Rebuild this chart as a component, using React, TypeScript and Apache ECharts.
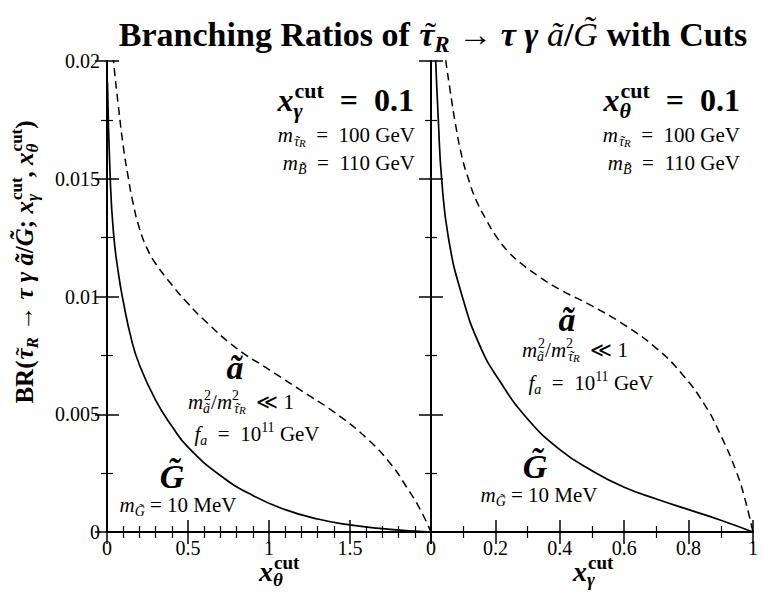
import React, { useEffect, useRef } from 'react';
import * as echarts from 'echarts';

// Left panel: BR vs x_theta^cut (x_gamma^cut = 0.1)
const leftGravX = [0.003, 0.02, 0.04, 0.07, 0.1, 0.15, 0.2, 0.3, 0.4, 0.5, 0.7, 0.9, 1.1, 1.3, 1.5, 1.7, 1.9, 2.0];
const leftGravY = [0.0191, 0.0150, 0.0127, 0.0110, 0.0098, 0.0082, 0.0071, 0.0056, 0.0045, 0.0036, 0.0024, 0.00155, 0.00095, 0.00055, 0.0003, 0.00014, 0.00004, 0];
const leftAxinoX = [0.03, 0.04, 0.07, 0.1, 0.13, 0.16, 0.2, 0.25, 0.3, 0.4, 0.5, 0.6, 0.8, 1.0, 1.2, 1.4, 1.6, 1.75, 1.85, 1.93, 2.0];
const leftAxinoY = [0.0208, 0.02, 0.0181, 0.0164, 0.0151, 0.014, 0.0129, 0.012, 0.0114, 0.0105, 0.0097, 0.009, 0.0078, 0.0069, 0.006, 0.0051, 0.004, 0.0029, 0.0019, 0.001, 0];

// Right panel: BR vs x_gamma^cut (x_theta^cut = 0.1)
const rightGravX = [0.01, 0.0146, 0.0227, 0.033, 0.054, 0.095, 0.152, 0.214, 0.3, 0.4, 0.5, 0.6, 0.7, 0.8, 0.9, 1.0];
const rightGravY = [0.0215, 0.02, 0.0175, 0.015, 0.0125, 0.0101, 0.0079, 0.0064, 0.0048, 0.0035, 0.0026, 0.0019, 0.0014, 0.00095, 0.0005, 0];
const rightAxinoX = [0.04, 0.046, 0.06, 0.075, 0.095, 0.116, 0.14, 0.17, 0.2, 0.24, 0.28, 0.33, 0.4, 0.5, 0.6, 0.7, 0.78, 0.85, 0.9, 0.95, 0.975, 1.0];
const rightAxinoY = [0.0206, 0.02, 0.0187, 0.0174, 0.016, 0.015, 0.0141, 0.0133, 0.0126, 0.0119, 0.0114, 0.0109, 0.0103, 0.0096, 0.0088, 0.0078, 0.0067, 0.0054, 0.0041, 0.0025, 0.0014, 0];

const yTicks = [0, 0.005, 0.01, 0.015, 0.02];
const leftXTicks = [0, 0.5, 1, 1.5];
const rightXTicks = [0, 0.2, 0.4, 0.6, 0.8, 1];

const F = '"Liberation Serif", "DejaVu Serif", serif';
const EQ = '\u2002=\u2002';

function rich(s: number) {
  const base: any = { align: 'left', fontFamily: F, fill: '#000', fontSize: s, lineHeight: Math.round(s * 1.3) };
  const sub: any = { align: 'left', fontFamily: F, fill: '#000', fontSize: Math.round(s * 0.68), lineHeight: Math.round(s * 0.68), verticalAlign: 'bottom' };
  const sup: any = { ...sub, verticalAlign: 'top' };
  const ss: any = { align: 'left', fontFamily: F, fill: '#000', fontSize: Math.round(s * 0.5), lineHeight: Math.round(s * 0.5), verticalAlign: 'bottom' };
  return {
    r: base,
    i: { ...base, fontStyle: 'italic' },
    b: { ...base, fontWeight: 'bold' },
    bi: { ...base, fontWeight: 'bold', fontStyle: 'italic' },
    tl: { ...base, width: 1 },
    sb: { ...sub, fontStyle: 'italic' },
    sbt: { ...sub, width: 1 },
    sbz: { ...sub, fontStyle: 'italic', width: 1 },
    sbb: { ...sub, fontStyle: 'italic', fontWeight: 'bold' },
    sbbz: { ...sub, fontStyle: 'italic', fontWeight: 'bold', width: 1 },
    sp: sup,
    spz: { ...sup, width: 1 },
    spb: { ...sup, fontWeight: 'bold' },
    ss: { ...ss, fontStyle: 'italic' },
  };
}

function txt(x: number, y: number, text: string, size: number, align = 'left', rotation = 0) {
  return {
    type: 'text',
    x,
    y,
    rotation,
    style: { text, rich: rich(size), align, verticalAlign: 'middle', fontFamily: F, fontSize: size, fill: '#000' },
  };
}

// tilde drawn as a zero-width token over the following glyph
const TAU = '{tl|\u2009˜}{bi|τ}';
const TAU_SUB = '{sbt|\u2009˜}{sb|τ}';

const fmtY = (v: number) => {
  const r = parseFloat(v.toFixed(4));
  return yTicks.some((t) => Math.abs(t - r) < 1e-9) ? String(r) : '';
};
const fmtLX = (v: number) => {
  const r = parseFloat(v.toFixed(3));
  return leftXTicks.some((t) => Math.abs(t - r) < 1e-9) ? String(r) : '';
};
const fmtRX = (v: number) => {
  const r = parseFloat(v.toFixed(3));
  return rightXTicks.some((t) => Math.abs(t - r) < 1e-9) ? String(r) : '';
};

const axisLine = { lineStyle: { color: '#000', width: 2 } };
const tick = { show: true, inside: true, length: 12, lineStyle: { color: '#000', width: 1.5 } };
const labelStyle = { fontFamily: F, fontSize: 20, color: '#000' };

function pairs(xs: number[], ys: number[]) {
  return xs.map((x, i) => [x, ys[i]]);
}

export default function App() {
  const ref = useRef<HTMLDivElement>(null);
  useEffect(() => {
    if (!ref.current) return;
    const chart = echarts.init(ref.current, undefined, { renderer: 'svg' });
    const mkX = (grid: number, pos: string, max: number, interval: number, split: number, labels: boolean, fmt: any) => ({
      type: 'value',
      gridIndex: grid,
      position: pos,
      min: 0,
      max,
      interval,
      axisLine,
      axisTick: tick,
      minorTick: { show: true, splitNumber: split, length: 6, lineStyle: { color: '#000', width: 1.2 } },
      splitLine: { show: false },
      axisLabel: labels ? { ...labelStyle, margin: 6, formatter: fmt } : { show: false },
    });
    const mkY = (grid: number, pos: string, labels: boolean) => ({
      type: 'value',
      gridIndex: grid,
      position: pos,
      min: 0,
      max: 0.02,
      interval: 0.005,
      axisLine,
      axisTick: tick,
      minorTick: { show: true, splitNumber: 2, length: 6, lineStyle: { color: '#000', width: 1.2 } },
      splitLine: { show: false },
      axisLabel: labels ? { ...labelStyle, margin: 7, formatter: fmtY } : { show: false },
    });
    const lineSeries = (xi: number, yi: number, data: number[][], dashed: boolean) => ({
      type: 'line',
      xAxisIndex: xi,
      yAxisIndex: yi,
      data,
      showSymbol: false,
      smooth: 0.5,
      clip: true,
      lineStyle: { color: '#000', width: dashed ? 1.5 : 1.7, type: dashed ? [8, 5] : 'solid' },
      silent: true,
    });
    chart.setOption({
      animation: false,
      backgroundColor: '#fff',
      grid: [
        { left: 107, top: 61, width: 324, height: 471 },
        { left: 431, top: 61, width: 322, height: 471 },
      ],
      xAxis: [
        mkX(0, 'bottom', 2, 0.5, 5, true, fmtLX),
        mkX(0, 'top', 2, 0.5, 5, false, null),
        mkX(1, 'bottom', 1, 0.2, 2, true, fmtRX),
        mkX(1, 'top', 1, 0.2, 2, false, null),
      ],
      yAxis: [mkY(0, 'left', true), mkY(0, 'right', false), mkY(1, 'left', false), mkY(1, 'right', false)],
      series: [
        lineSeries(0, 0, pairs(leftGravX, leftGravY), false),
        lineSeries(0, 0, pairs(leftAxinoX, leftAxinoY), true),
        lineSeries(2, 2, pairs(rightGravX, rightGravY), false),
        lineSeries(2, 2, pairs(rightAxinoX, rightAxinoY), true),
      ],
      graphic: [
        txt(433, 34, '{b|Branching Ratios of }' + TAU + '{sbb|R}{b| → }{bi|τ γ }{i|ã}{b|/}{i|G̃}{b| with Cuts}', 34, 'center'),
        txt(24, 262, '{b|BR(}' + TAU + '{sbb|R}{b| → }{bi|τ γ ã}{b|/}{bi|G̃}{b|; }{bi|x}{sbbz|γ}{spb|cut}{b|, }{bi|x}{sbbz|θ}{spb|cut}{b|)}', 25, 'center', Math.PI / 2),
        txt(259, 571, '{bi|x}{sbbz|θ}{spb|cut}', 28, 'left'),
        txt(573, 571, '{bi|x}{sbbz|γ}{spb|cut}', 28, 'left'),
        // left panel annotations
        txt(414, 100, '{bi|x}{sbbz|γ}{spb|cut}{b|' + EQ + '0.1}', 32, 'right'),
        txt(415, 135, '{i|m}' + TAU_SUB + '{ss|R}{r|' + EQ + '100 GeV}', 21, 'right'),
        txt(415, 163, '{i|m}{sb|B̃}{r|' + EQ + '110 GeV}', 21, 'right'),
        txt(235, 367, '{bi|ã}', 34, 'center'),
        txt(241, 402, '{i|m}{sbz|ã}{sp|2}{r|/}{i|m}{spz|2}' + TAU_SUB + '{ss|R}{r|  ≪ 1}', 21, 'center'),
        txt(257, 434, '{i|f}{sb|a}{r|' + EQ + '10}{sp|11}{r| GeV}', 21, 'center'),
        txt(172, 476, '{bi|G̃}', 34, 'center'),
        txt(178, 505, '{i|m}{sb|G̃}{r| = 10 MeV}', 21, 'center'),
        // right panel annotations
        txt(740, 100, '{bi|x}{sbbz|θ}{spb|cut}{b|' + EQ + '0.1}', 32, 'right'),
        txt(740, 135, '{i|m}' + TAU_SUB + '{ss|R}{r|' + EQ + '100 GeV}', 21, 'right'),
        txt(740, 163, '{i|m}{sb|B̃}{r|' + EQ + '110 GeV}', 21, 'right'),
        txt(567, 319, '{bi|ã}', 34, 'center'),
        txt(575, 350, '{i|m}{sbz|ã}{sp|2}{r|/}{i|m}{spz|2}' + TAU_SUB + '{ss|R}{r|  ≪ 1}', 21, 'center'),
        txt(591, 383, '{i|f}{sb|a}{r|' + EQ + '10}{sp|11}{r| GeV}', 21, 'center'),
        txt(535, 466, '{bi|G̃}', 34, 'center'),
        txt(539, 495, '{i|m}{sb|G̃}{r| = 10 MeV}', 21, 'center'),
      ],
    });
    return () => chart.dispose();
  }, []);
  return <div ref={ref} style={{ position: 'fixed', left: 0, top: 0, width: 763, height: 600 }} />;
}
